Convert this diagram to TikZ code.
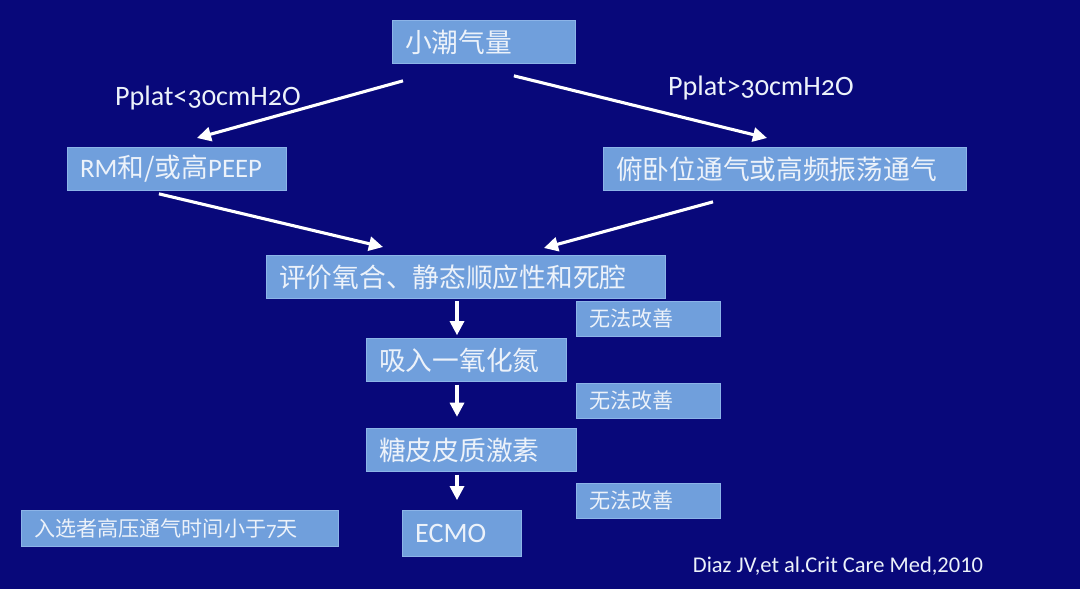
\documentclass[tikz,border=0pt]{standalone}
\usepackage{fontspec}
\setmainfont[Numbers=OldStyle]{Carlito}
\newfontfamily\cjk{Noto Sans CJK SC}
\newfontfamily\citefont{Carlito}
\usetikzlibrary{arrows.meta}

\definecolor{slidebg}{RGB}{8,8,122}
\definecolor{boxfill}{RGB}{112,159,220}
\definecolor{boxline}{RGB}{140,180,232}
\definecolor{boxtext}{RGB}{236,242,250}

\newcommand{\lat}[1]{{\rmfamily #1}}

\tikzset{
  box/.style={fill=boxfill, draw=boxline, line width=0.6pt, text=boxtext,
    anchor=north west, inner xsep=0.32cm, inner ysep=0pt, align=left,
    minimum height=1.075cm, font=\cjk\fontsize{19}{22}\selectfont},
  smallbox/.style={box, minimum height=0.875cm, text width=2.96cm,
    font=\cjk\fontsize{15}{18}\selectfont},
  flow/.style={draw=white, line width=2.2pt, -{Triangle[length=10pt,width=10pt]}},
  cond/.style={text=boxtext, font=\fontsize{20}{24}\selectfont}
}

\begin{document}
\begin{tikzpicture}[x=0.025cm, y=-0.025cm]
%%% background
\fill[slidebg] (0,0) rectangle (1080,589);
\useasboundingbox (0,0) rectangle (1080,589);

%%% nodes

% main steps
\node [box, text width=3.935cm] (tidal) at (392,20) {小潮气量};
\node [box, text width=4.835cm] (rm) at (67,147) {\lat{RM}和/或高\lat{PEEP}};
\node [box, text width=8.435cm] (prone) at (603,147) {俯卧位通气或高频振荡通气};
\node [box, text width=9.335cm] (assess) at (266,255) {评价氧合、静态顺应性和死腔};
\node [box, text width=4.36cm] (no) at (366,338) {吸入一氧化氮};
\node [box, text width=4.61cm] (steroid) at (366,428) {糖皮皮质激素};
\node [box, text width=2.335cm, minimum height=1.15cm, font=\rmfamily\fontsize{20}{24}\selectfont] (ecmo) at (402,510) {ECMO};

% failure notes
\node [smallbox] (fail1) at (576,301) {无法改善};
\node [smallbox] (fail2) at (576,383) {无法改善};
\node [smallbox] (fail3) at (576,483) {无法改善};

% side notes
\node [box, text width=7.285cm, minimum height=0.9cm, font=\cjk\fontsize{15}{18}\selectfont] (incl) at (21,510) {入选者高压通气时间小于\lat{7}天};
\node [cond] (lowp) at (208,98) {Pplat<30cmH2O};
\node [cond] (highp) at (761,88) {Pplat>30cmH2O};
\node [anchor=west, text=boxtext, font=\citefont\fontsize{16}{19}\selectfont] (cite) at (688,566) {Diaz JV,et al.Crit Care Med,2010};

\coordinate (spine) at (457,0);

%%% edges

% split on plateau pressure
\draw[flow] ([shift={(11,17)}]tidal.south west) -- ([shift={(20,-9)}]rm.north);
\draw[flow] ([shift={(-62,12)}]tidal.south east) -- ([shift={(164,-9)}]prone.north west);

% join at assessment
\draw[flow] ([shift={(-18,3)}]rm.south) -- ([shift={(117,-8)}]assess.north west);
\draw[flow] ([shift={(110,11)}]prone.south west) -- ([shift={(-122,-7)}]assess.north east);

% escalation
\draw[flow, shorten <=1.5pt, shorten >=2pt] (spine |- assess.south) -- (spine |- no.north);
\draw[flow, shorten <=2pt, shorten >=8pt] (spine |- no.south) -- (spine |- steroid.north);
\draw[flow, shorten <=2pt, shorten >=7pt] (spine |- steroid.south) -- (spine |- ecmo.north);
\end{tikzpicture}
\end{document}
